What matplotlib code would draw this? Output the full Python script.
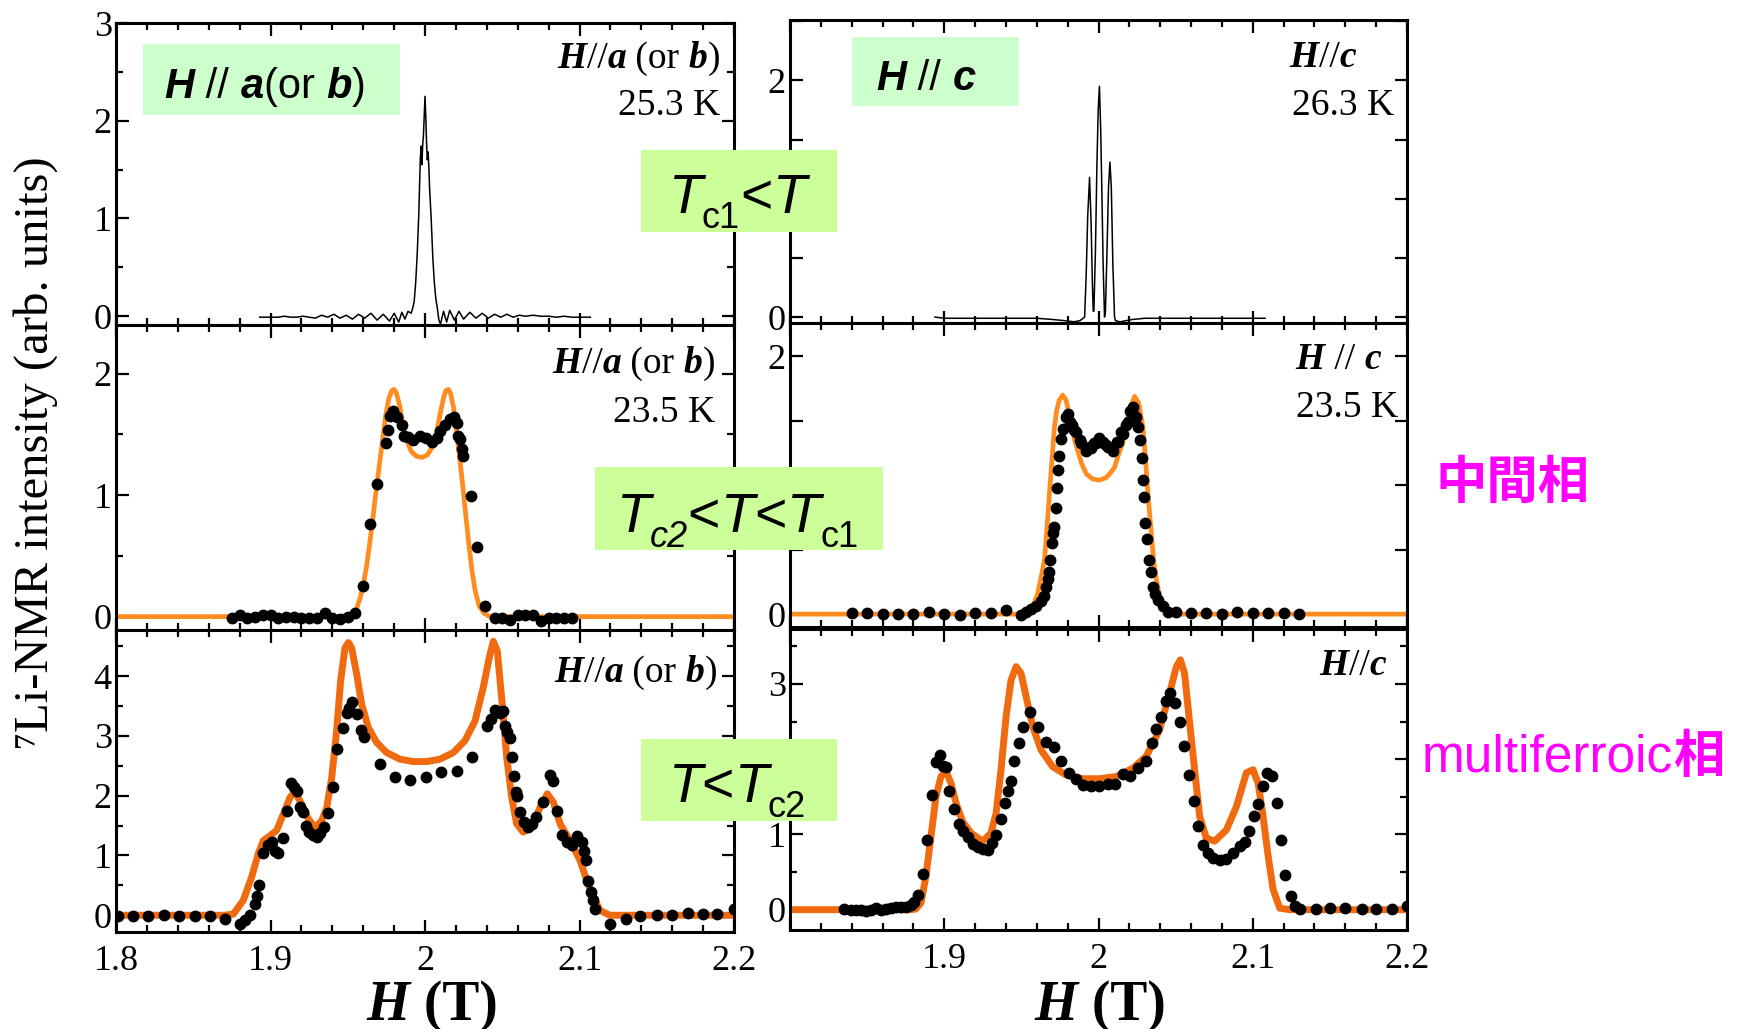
import numpy as np
import matplotlib.pyplot as plt
from matplotlib.patches import Rectangle
from matplotlib.text import Annotation
from matplotlib.ticker import MultipleLocator, FuncFormatter
from matplotlib.transforms import Bbox

plt.rcParams['font.family'] = ['Liberation Serif', 'DejaVu Serif']

# ---- data ----
# top left: H//a (or b), 25.3 K
tl_H = [1.893, 1.897, 1.901, 1.905, 1.909, 1.913, 1.917, 1.921, 1.925, 1.929,
        1.933, 1.937, 1.941, 1.945, 1.949, 1.953, 1.957, 1.961, 1.965, 1.969,
        1.973, 1.977, 1.980, 1.983, 1.985, 1.987, 1.989, 1.991, 1.992, 1.993,
        1.994, 1.995, 1.996, 1.9965, 1.997, 1.9975, 1.998, 1.9985, 1.999, 1.9995,
        2.000, 2.0005, 2.001, 2.0015, 2.002, 2.0025, 2.003, 2.004, 2.005, 2.006,
        2.007, 2.008, 2.009, 2.010, 2.012, 2.014, 2.016, 2.019, 2.022, 2.025,
        2.029, 2.033, 2.037, 2.041, 2.045, 2.049, 2.053, 2.057, 2.061, 2.065,
        2.070, 2.075, 2.080, 2.085, 2.090, 2.095, 2.100, 2.107]
tl_I = [-0.01, -0.01, -0.01, -0.01, 0.0, -0.01, -0.01, 0.0, -0.01, -0.02,
        0.01, -0.01, 0.02, -0.02, 0.01, -0.03, 0.02, -0.02, 0.03, -0.04,
        0.02, -0.05, 0.03, -0.06, 0.04, -0.03, 0.05, 0.03, 0.08, 0.15,
        0.35, 0.65, 1.05, 1.35, 1.62, 1.74, 1.55, 1.75, 1.85, 2.05,
        2.25, 2.05, 1.78, 1.60, 1.68, 1.52, 1.30, 1.00, 0.62, 0.35,
        0.18, 0.08, -0.04, -0.08, 0.05, -0.06, 0.06, -0.04, 0.05, -0.03,
        0.04, -0.02, 0.03, -0.02, 0.02, -0.01, 0.02, -0.01, 0.01, 0.0,
        0.01, 0.0, 0.0, -0.01, 0.0, -0.01, -0.01, -0.01]

# top right: H//c, 26.3 K
tr_H = [1.894, 1.900, 1.910, 1.920, 1.930, 1.940, 1.950, 1.960, 1.970, 1.978,
        1.984, 1.988, 1.990, 1.991, 1.992, 1.993, 1.9942, 1.9952, 1.996, 1.9966,
        1.997, 1.998, 1.999, 1.9998, 2.0006, 2.0014, 2.0022, 2.003, 2.0039, 2.0045,
        2.0055, 2.0065, 2.0074, 2.0083, 2.0093, 2.0104, 2.011, 2.014, 2.018, 2.022,
        2.030, 2.040, 2.050, 2.060, 2.070, 2.080, 2.090, 2.100, 2.108]
tr_I = [0.0, -0.01, -0.01, -0.01, -0.01, -0.01, -0.01, -0.01, -0.02, -0.03,
        -0.04, -0.03, -0.01, 0.0, 0.35, 0.85, 1.18, 0.80, 0.30, 0.05,
        0.05, 0.55, 1.30, 1.75, 1.95, 1.60, 1.05, 0.45, 0.0, 0.05,
        0.55, 1.10, 1.31, 1.10, 0.45, 0.0, -0.03, -0.04, -0.03, -0.02,
        -0.01, -0.01, -0.01, -0.01, -0.01, -0.01, -0.01, -0.01, -0.01]

# middle left: 23.5 K, dots and fit
ml_H = [1.875, 1.880, 1.885, 1.890, 1.895, 1.900, 1.905, 1.910, 1.915, 1.920,
        1.925, 1.930, 1.935, 1.940, 1.945, 1.950, 1.955, 1.9597, 1.9644, 1.9691,
        1.9748, 1.9758, 1.9773, 1.9791, 1.9817, 1.9849, 1.9864, 1.9892, 1.9925, 1.9968,
        2.0006, 2.0043, 2.0076, 2.0097, 2.0129, 2.0162, 2.0190, 2.0205, 2.0216, 2.0227,
        2.0238, 2.0244, 2.0296, 2.0339, 2.0390, 2.045, 2.050, 2.055, 2.060, 2.065,
        2.070, 2.075, 2.080, 2.085, 2.090, 2.095]
ml_I = [-0.01, 0.01, -0.01, 0.0, 0.01, 0.01, -0.01, 0.0, 0.0, -0.01,
        -0.01, -0.01, 0.03, -0.01, -0.02, 0.0, 0.03, 0.25, 0.76, 1.09,
        1.43, 1.54, 1.65, 1.69, 1.64, 1.58, 1.49, 1.48, 1.45, 1.49,
        1.47, 1.44, 1.47, 1.53, 1.58, 1.63, 1.64, 1.59, 1.49, 1.46,
        1.38, 1.32, 0.99, 0.57, 0.09, -0.01, -0.01, -0.03, 0.01, 0.01,
        0.01, -0.04, -0.01, -0.01, -0.01, -0.01]
ml_fit_H = [1.80, 1.945, 1.952, 1.9555, 1.958, 1.960, 1.962, 1.964, 1.966, 1.968,
            1.9705, 1.9725, 1.9745, 1.9765, 1.9785, 1.9800, 1.9815, 1.9835, 1.9855, 1.988,
            1.991, 1.9945, 1.998, 2.0015, 2.005, 2.0075, 2.010, 2.012, 2.0135, 2.0151,
            2.0165, 2.0185, 2.0205, 2.0225, 2.0245, 2.0265, 2.0285, 2.0305, 2.0325, 2.035,
            2.038, 2.042, 2.20]
ml_fit_I = [0.0, 0.0, 0.02, 0.06, 0.15, 0.26, 0.40, 0.58, 0.78, 1.00,
            1.25, 1.45, 1.65, 1.79, 1.86, 1.87, 1.84, 1.74, 1.60, 1.46,
            1.36, 1.32, 1.31, 1.33, 1.40, 1.52, 1.68, 1.80, 1.86, 1.87,
            1.84, 1.72, 1.52, 1.30, 1.07, 0.82, 0.58, 0.37, 0.21, 0.09,
            0.03, 0.0, 0.0]

# middle right: 23.5 K, dots and fit
mr_H = [1.84, 1.85, 1.86, 1.87, 1.88, 1.89, 1.90, 1.91, 1.92, 1.93,
        1.94, 1.9498, 1.953, 1.9563, 1.9595, 1.9628, 1.9649, 1.966, 1.9671, 1.9682,
        1.9688, 1.9699, 1.9708, 1.9714, 1.9725, 1.9729, 1.9736, 1.9747, 1.9758, 1.9768,
        1.979, 1.980, 1.9812, 1.9829, 1.9844, 1.9857, 1.9877, 1.9886, 1.9916, 1.992,
        1.9944, 1.9953, 1.9973, 1.9985, 2.0003, 2.0018, 2.0031, 2.005, 2.006, 2.009,
        2.0093, 2.0118, 2.0125, 2.0147, 2.0158, 2.0177, 2.019, 2.0205, 2.0219, 2.0226,
        2.024, 2.0256, 2.0271, 2.028, 2.0288, 2.0295, 2.0299, 2.0314, 2.0327, 2.0342,
        2.0353, 2.0364, 2.0385, 2.0418, 2.045, 2.05, 2.06, 2.07, 2.08, 2.09,
        2.10, 2.11, 2.12, 2.13]
mr_I = [0.01, 0.01, 0.0, 0.0, 0.0, 0.02, 0.0, -0.01, 0.01, 0.01,
        0.03, -0.01, 0.02, 0.04, 0.06, 0.10, 0.14, 0.21, 0.27, 0.33,
        0.42, 0.55, 0.63, 0.68, 0.82, 0.98, 1.12, 1.23, 1.36, 1.44,
        1.53, 1.55, 1.49, 1.47, 1.43, 1.41, 1.35, 1.33, 1.28, 1.27,
        1.30, 1.29, 1.33, 1.33, 1.37, 1.34, 1.34, 1.31, 1.30, 1.28,
        1.27, 1.34, 1.34, 1.41, 1.40, 1.47, 1.49, 1.58, 1.57, 1.61,
        1.53, 1.45, 1.35, 1.21, 1.04, 0.91, 0.71, 0.58, 0.42, 0.33,
        0.21, 0.16, 0.11, 0.06, 0.02, 0.02, 0.01, 0.01, 0.0, 0.02,
        0.01, 0.01, 0.01, 0.0]
mr_fit_H = [1.80, 1.950, 1.953, 1.956, 1.9585, 1.9606, 1.963, 1.965, 1.9665, 1.9682,
            1.970, 1.9714, 1.9729, 1.9745, 1.9768, 1.979, 1.981, 1.9835, 1.9855, 1.989,
            1.992, 1.996, 2.0006, 2.005, 2.008, 2.0104, 2.013, 2.0158, 2.018, 2.0205,
            2.0234, 2.026, 2.0288, 2.0305, 2.032, 2.034, 2.0357, 2.0375, 2.0392, 2.042,
            2.046, 2.050, 2.20]
mr_fit_I = [0.0, 0.0, 0.01, 0.04, 0.09, 0.16, 0.30, 0.42, 0.65, 0.94,
            1.22, 1.45, 1.58, 1.66, 1.70, 1.66, 1.55, 1.40, 1.31, 1.17,
            1.09, 1.05, 1.04, 1.06, 1.10, 1.14, 1.24, 1.33, 1.48, 1.60,
            1.69, 1.64, 1.45, 1.20, 0.94, 0.66, 0.42, 0.27, 0.16, 0.06,
            0.01, 0.0, 0.0]

# bottom left: H//a (or b), multiferroic phase
bl_H = [1.801, 1.811, 1.821, 1.831, 1.841, 1.851, 1.861, 1.8706, 1.8803, 1.8835,
        1.8867, 1.890, 1.8915, 1.8928, 1.8954, 1.8986, 1.9008, 1.9029, 1.9051, 1.9079,
        1.9105, 1.913, 1.9152, 1.9169, 1.9191, 1.9208, 1.923, 1.9251, 1.9277, 1.9299,
        1.932, 1.9346, 1.9374, 1.9407, 1.9433, 1.9467, 1.9493, 1.951, 1.9525, 1.9558,
        1.9584, 1.9607, 1.9709, 1.9806, 1.9903, 2.0006, 2.0102, 2.0205, 2.0304, 2.0399,
        2.0425, 2.0453, 2.0485, 2.0503, 2.0518, 2.0533, 2.055, 2.0563, 2.0576, 2.0589,
        2.0598, 2.0615, 2.0641, 2.0669, 2.069, 2.0718, 2.0762, 2.0809, 2.083, 2.0856,
        2.0885, 2.0917, 2.0949, 2.0982, 2.1014, 2.1029, 2.1042, 2.1057, 2.1072, 2.1085,
        2.110, 2.1197, 2.1301, 2.1392, 2.150, 2.160, 2.170, 2.180, 2.189, 2.200]
bl_I = [-0.01, -0.01, -0.01, 0.0, -0.01, -0.01, -0.02, -0.07, -0.14, -0.08,
        0.0, 0.19, 0.33, 0.50, 1.04, 1.17, 1.22, 1.08, 1.04, 1.29,
        1.75, 2.21, 2.15, 2.08, 1.81, 1.72, 1.50, 1.39, 1.35, 1.31,
        1.37, 1.47, 1.71, 2.14, 2.78, 3.13, 3.39, 3.47, 3.56, 3.36,
        3.09, 2.98, 2.53, 2.31, 2.27, 2.31, 2.39, 2.41, 2.65, 3.17,
        3.28, 3.43, 3.39, 3.42, 3.17, 3.06, 2.97, 2.65, 2.33, 2.06,
        2.00, 1.72, 1.56, 1.48, 1.53, 1.64, 1.89, 2.35, 2.25, 1.75,
        1.35, 1.22, 1.17, 1.33, 1.22, 1.08, 0.92, 0.58, 0.39, 0.25,
        0.11, -0.14, -0.06, -0.02, 0.01, 0.01, 0.03, 0.02, 0.02, 0.10]
bl_fit_H = [1.80, 1.870, 1.876, 1.8824, 1.8878, 1.8921, 1.8954, 1.8997, 1.904, 1.9083,
            1.9126, 1.9159, 1.9202, 1.9245, 1.9288, 1.9331, 1.9364, 1.9396, 1.9428, 1.9454,
            1.9482, 1.9504, 1.9525, 1.9558, 1.959, 1.9633, 1.9687, 1.9752, 1.9838, 1.9924,
            2.0011, 2.0097, 2.0183, 2.0259, 2.0324, 2.0377, 2.0416, 2.0442, 2.0468, 2.0496,
            2.0529, 2.0561, 2.0593, 2.0636, 2.069, 2.0744, 2.0792, 2.0831, 2.0874, 2.0939,
            2.1003, 2.1047, 2.109, 2.1133, 2.1197, 2.20]
bl_fit_I = [0.0, 0.0, 0.02, 0.25, 0.64, 1.03, 1.25, 1.33, 1.42, 1.69,
            1.97, 2.06, 1.86, 1.61, 1.47, 1.58, 1.80, 2.30, 3.08, 3.92,
            4.47, 4.56, 4.47, 4.03, 3.53, 3.14, 2.89, 2.72, 2.61, 2.57,
            2.57, 2.61, 2.72, 2.92, 3.25, 3.81, 4.31, 4.58, 4.42, 3.64,
            2.64, 1.97, 1.53, 1.39, 1.47, 1.80, 2.03, 1.89, 1.53, 1.25,
            0.92, 0.58, 0.31, 0.08, 0.0, 0.0]

# bottom right: H//c, multiferroic phase
br_H = [1.835, 1.8395, 1.8427, 1.8459, 1.8491, 1.8524, 1.8556, 1.8589, 1.8621, 1.8654,
        1.8686, 1.8719, 1.8751, 1.8784, 1.8805, 1.8827, 1.8859, 1.8887, 1.892, 1.8946,
        1.8974, 1.8989, 1.9011, 1.9032, 1.9065, 1.9093, 1.9123, 1.9151, 1.9184, 1.9216,
        1.9249, 1.9281, 1.9307, 1.9336, 1.9368, 1.9396, 1.9411, 1.9433, 1.9455, 1.9487,
        1.9513, 1.9556, 1.9606, 1.966, 1.9714, 1.9758, 1.9807, 1.9855, 1.9898, 1.9953,
        2.0006, 2.006, 2.011, 2.0158, 2.0206, 2.0255, 2.0305, 2.0346, 2.0375, 2.0407,
        2.0435, 2.0465, 2.0494, 2.0526, 2.0552, 2.0584, 2.0617, 2.0645, 2.0677, 2.071,
        2.0742, 2.0786, 2.0829, 2.0872, 2.0916, 2.0948, 2.0976, 2.1006, 2.1035, 2.1067,
        2.1093, 2.1128, 2.1154, 2.1186, 2.1212, 2.1245, 2.1273, 2.1306, 2.141, 2.150,
        2.160, 2.171, 2.180, 2.190, 2.200]
br_I = [0.01, 0.0, -0.01, 0.0, -0.02, 0.0, 0.02, -0.01, 0.01, 0.02,
        0.03, 0.03, 0.04, 0.06, 0.10, 0.19, 0.47, 0.92, 1.52, 1.96,
        2.06, 1.91, 1.90, 1.58, 1.34, 1.14, 1.05, 0.96, 0.87, 0.83,
        0.81, 0.79, 0.89, 0.99, 1.20, 1.42, 1.58, 1.71, 1.98, 2.21,
        2.43, 2.63, 2.43, 2.23, 2.16, 1.98, 1.81, 1.74, 1.66, 1.65,
        1.65, 1.67, 1.67, 1.80, 1.78, 1.88, 1.98, 2.22, 2.40, 2.56,
        2.77, 2.88, 2.75, 2.50, 2.17, 1.79, 1.44, 1.11, 0.86, 0.75,
        0.69, 0.66, 0.67, 0.75, 0.84, 0.90, 1.04, 1.24, 1.40, 1.64,
        1.82, 1.78, 1.42, 0.93, 0.46, 0.18, 0.05, 0.01, 0.01, 0.02,
        0.02, 0.01, 0.01, 0.01, 0.05]
br_fit_H = [1.80, 1.878, 1.8816, 1.8849, 1.8881, 1.8914, 1.8946, 1.8979, 1.9011, 1.9044,
            1.9076, 1.9119, 1.9173, 1.9249, 1.9303, 1.9336, 1.9368, 1.9401, 1.9433, 1.9466,
            1.9498, 1.9531, 1.9574, 1.9628, 1.9703, 1.979, 1.9898, 2.0006, 2.0115, 2.0223,
            2.031, 2.0396, 2.0461, 2.0505, 2.0531, 2.0558, 2.0591, 2.0623, 2.0656, 2.0699,
            2.0753, 2.0829, 2.0894, 2.0959, 2.1002, 2.1035, 2.1067, 2.110, 2.1132, 2.1175,
            2.124, 2.20]
br_fit_I = [0.0, 0.0, 0.01, 0.09, 0.44, 0.97, 1.50, 1.77, 1.84, 1.68,
            1.42, 1.17, 1.02, 0.91, 1.02, 1.28, 1.86, 2.57, 3.05, 3.23,
            3.14, 2.83, 2.43, 2.12, 1.90, 1.79, 1.74, 1.74, 1.77, 1.88,
            2.04, 2.39, 2.88, 3.23, 3.32, 3.14, 2.48, 1.86, 1.24, 0.95,
            0.91, 1.06, 1.37, 1.82, 1.86, 1.68, 1.24, 0.71, 0.27, 0.02,
            0.0, 0.0]

# ---- figure ----
W, HT = 1738, 1029
fig = plt.figure(figsize=(W / 100, HT / 100), dpi=100)


def px_rect(x0, y0, x1, y1):
    return [x0 / W, 1 - y1 / HT, (x1 - x0) / W, (y1 - y0) / HT]


def xfmt(hide18):
    def f(v, p):
        if hide18 and v < 1.85:
            return ''
        return ('%.1f' % v).rstrip('0').rstrip('.')
    return FuncFormatter(f)


def yfmt(shown):
    def f(v, p):
        for s in shown:
            if abs(v - s) < 1e-6:
                return '%d' % s
        return ''
    return FuncFormatter(f)


def style(ax, ylim, ymajor, shown, xlabels, right):
    ax.set_xlim(1.8, 2.2)
    ax.set_ylim(*ylim)
    ax.xaxis.set_major_locator(MultipleLocator(0.1))
    ax.xaxis.set_minor_locator(MultipleLocator(0.02))
    ax.yaxis.set_major_locator(MultipleLocator(ymajor))
    ax.yaxis.set_minor_locator(MultipleLocator(0.5))
    ax.xaxis.set_major_formatter(xfmt(right))
    ax.yaxis.set_major_formatter(yfmt(shown))
    ax.tick_params(which='both', direction='in', top=True, right=True,
                   width=1.6, labelsize=26)
    ax.tick_params(which='major', length=9)
    ax.tick_params(which='minor', length=5)
    ax.tick_params(axis='x', pad=9, labelbottom=xlabels)
    ax.tick_params(axis='y', pad=3)
    for s in ax.spines.values():
        s.set_linewidth(2.2)


ax_tl = fig.add_axes(px_rect(116, 23, 734, 325))
ax_ml = fig.add_axes(px_rect(116, 325, 734, 630))
ax_bl = fig.add_axes(px_rect(116, 630, 734, 932))
ax_tr = fig.add_axes(px_rect(790, 20, 1407, 323))
ax_mr = fig.add_axes(px_rect(790, 323, 1407, 627))
ax_br = fig.add_axes(px_rect(790, 629, 1407, 930))

style(ax_tl, (-0.09, 3.0), 1, [0, 1, 2, 3], False, False)
style(ax_ml, (-0.11, 2.4), 1, [0, 1, 2], False, False)
style(ax_bl, (-0.28, 4.77), 1, [0, 1, 2, 3, 4], True, False)
style(ax_tr, (-0.05, 2.51), 0.5, [0, 2], False, True)
style(ax_mr, (-0.1, 2.26), 0.5, [0, 2], False, True)
style(ax_br, (-0.27, 3.73), 1, [0, 1, 2, 3], True, True)

ax_tl.plot(tl_H, tl_I, color='black', lw=1.1)
ax_tr.plot(tr_H, tr_I, color='black', lw=1.1)

orange1 = '#ff8c1e'
orange2 = '#f06a10'
ax_ml.plot(ml_fit_H, ml_fit_I, color=orange1, lw=3.4, zorder=2)
ax_ml.plot(ml_H, ml_I, 'o', color='black', ms=7.5, zorder=3)
ax_mr.plot(mr_fit_H, mr_fit_I, color=orange1, lw=3.4, zorder=2)
ax_mr.plot(mr_H, mr_I, 'o', color='black', ms=7.5, zorder=3)
ax_bl.plot(bl_fit_H, bl_fit_I, color=orange2, lw=5.0, zorder=2)
ax_bl.plot(bl_H, bl_I, 'o', color='black', ms=7.5, zorder=3)
ax_br.plot(br_fit_H, br_fit_I, color=orange2, lw=5.0, zorder=2)
ax_br.plot(br_H, br_I, 'o', color='black', ms=7.5, zorder=3)

# ---- rich text made of pieces ----
groups = []


def rich(x, y, parts, ha='left'):
    fx, fy = x / W, 1 - y / HT
    first = None
    prev = None
    items = []
    for s, kw, dy in parts:
        if first is None:
            t = fig.text(fx, fy, s, ha='left', va='baseline', **kw)
            first = t
        else:
            t = Annotation(s, xy=(1, 0), xycoords=(prev, first),
                           xytext=(0, dy), textcoords='offset points',
                           ha='left', va='bottom', annotation_clip=False, **kw)
            fig.add_artist(t)
        prev = t
        items.append(t)
    groups.append((first, items, fx, ha))


serif = ['Liberation Serif', 'DejaVu Serif']
sans = ['Liberation Sans', 'DejaVu Sans']
bi = dict(family=serif, weight='bold', style='italic', size=27)
rg = dict(family=serif, size=27)


def hab_label(x, y):
    rich(x, y, [('H', bi, 0), ('//', rg, 0), ('a', bi, 0), (' (or ', rg, 0),
                ('b', bi, 0), (')', rg, 0)], ha='right')


hab_label(720, 68)
hab_label(715, 373)
hab_label(717, 682)
rich(1356, 67, [('H', bi, 0), ('//', rg, 0), ('c', bi, 0)], ha='right')
rich(1381, 369, [('H', bi, 0), (' // ', rg, 0), ('c', bi, 0)], ha='right')
rich(1386, 675, [('H', bi, 0), ('//', rg, 0), ('c', bi, 0)], ha='right')

fig.text(720 / W, 1 - 115 / HT, '25.3 K', ha='right', va='baseline', **rg)
fig.text(715 / W, 1 - 422 / HT, '23.5 K', ha='right', va='baseline', **rg)
fig.text(1394 / W, 1 - 115 / HT, '26.3 K', ha='right', va='baseline', **rg)
fig.text(1398 / W, 1 - 417 / HT, '23.5 K', ha='right', va='baseline', **rg)

# axis labels
fig.text(36 / W, 1 - 453 / HT, '\u2077Li-NMR intensity (arb. units)', rotation=90,
         ha='center', va='center', family=serif, size=35)
xl_b = dict(family=serif, weight='bold', size=40)
xl_bi = dict(family=serif, weight='bold', style='italic', size=40)
rich(432, 1020, [('H', xl_bi, 0), (' (T)', xl_b, 0)], ha='center')
rich(1100, 1020, [('H', xl_bi, 0), (' (T)', xl_b, 0)], ha='center')

# ---- green boxes ----
def box(x0, y0, x1, y1, color):
    r = Rectangle((x0 / W, 1 - y1 / HT), (x1 - x0) / W, (y1 - y0) / HT,
                  transform=fig.transFigure, facecolor=color, edgecolor='none', zorder=2)
    fig.add_artist(r)


box(143, 44, 400, 115, '#ccffcc')
box(852, 37, 1019, 106, '#ccffcc')
box(641, 150, 837, 232, '#ccff99')
box(595, 467, 883, 550, '#ccff99')
box(641, 739, 837, 821, '#ccff99')

sbi = dict(family=sans, weight='bold', style='italic', size=30)
srg = dict(family=sans, size=30)
rich(164, 98, [('H', sbi, 0), (' // ', srg, 0), ('a', sbi, 0), ('(or ', srg, 0),
               ('b', sbi, 0), (')', srg, 0)])
rich(876, 90, [('H', sbi, 0), (' // ', srg, 0), ('c', sbi, 0)])

tit = dict(family=sans, style='italic', size=40)
trg = dict(family=sans, size=40)
sub = dict(family=sans, size=26)
subit = dict(family=sans, style='italic', size=26)
rich(737, 213, [('T', tit, 0), ('c1', sub, -8), ('<', trg, 0), ('T', tit, 0)], ha='center')
rich(737, 532, [('T', tit, 0), ('c2', subit, -8), ('<', trg, 0), ('T', tit, 0),
                ('<', trg, 0), ('T', tit, 0), ('c1', sub, -8)], ha='center')
rich(737, 802, [('T', tit, 0), ('<', trg, 0), ('T', tit, 0), ('c2', sub, -8)], ha='center')

# ---- phase names ----
cjk = ['Noto Sans CJK JP', 'DejaVu Sans']
fig.text(1435 / W, 1 - 482 / HT, '中間相', family=cjk, weight='bold', size=37,
         color='#ff00ff', ha='left', va='center')
rich(1422, 772, [('multiferroic', dict(family=sans, size=37, color='#ff00ff'), 0),
                 ('相', dict(family=cjk, weight='bold', size=37, color='#ff00ff'), 0)])

# align the pieced texts
fig.canvas.draw()
renderer = fig.canvas.get_renderer()
for first, items, fx, ha in groups:
    if ha == 'left':
        continue
    bb = Bbox.union([t.get_window_extent(renderer) for t in items])
    shift = bb.width / W
    if ha == 'center':
        shift = shift / 2
    first.set_x(fx - shift)

fig.savefig('out.png', dpi=100)
